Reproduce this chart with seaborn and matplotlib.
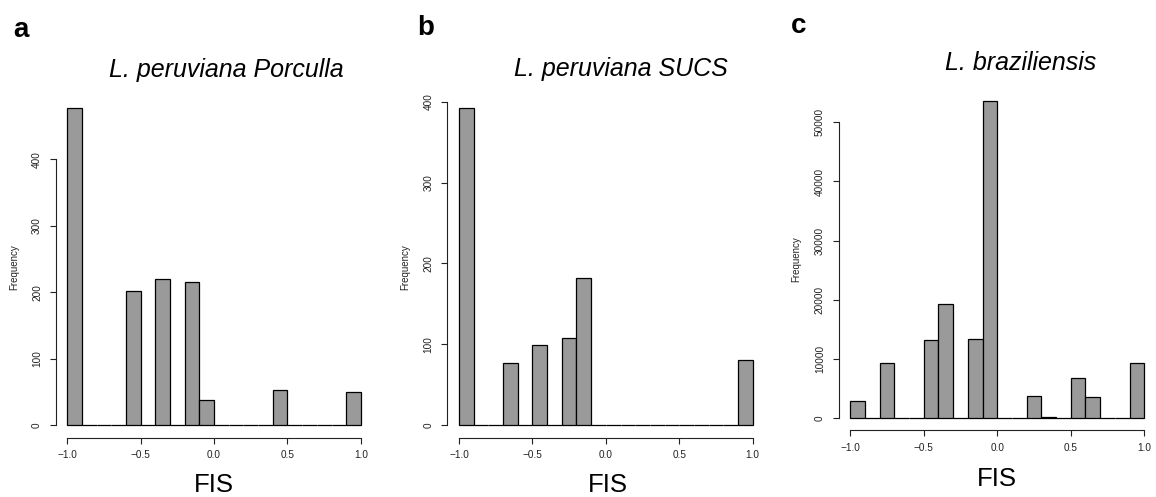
import numpy as np
import pandas as pd
import matplotlib
matplotlib.use("Agg")
import matplotlib.pyplot as plt
import seaborn as sns

# Per-bin counts of FIS (20 bins of width 0.1 from -1 to 1)
porculla_counts = [477, 0, 0, 0, 202, 0, 220, 0, 215, 37,
                   0, 0, 0, 0, 52, 0, 0, 0, 0, 50]
sucs_counts = [392, 0, 0, 77, 0, 99, 0, 108, 182, 0,
               0, 0, 0, 0, 0, 0, 0, 0, 0, 81]
braz_counts = [2900, 0, 9200, 0, 0, 13200, 19300, 0, 13400, 53600,
               0, 0, 3700, 80, 0, 6800, 3500, 0, 0, 9200]

bin_centers = [-0.95, -0.85, -0.75, -0.65, -0.55, -0.45, -0.35, -0.25, -0.15, -0.05,
               0.05, 0.15, 0.25, 0.35, 0.45, 0.55, 0.65, 0.75, 0.85, 0.95]

panel_letters = ["a", "b", "c"]
panel_titles = ["L. peruviana Porculla", "L. peruviana SUCS", "L. braziliensis"]

x_ticks = [-1.0, -0.5, 0.0, 0.5, 1.0]
x_tick_labels = ["\u22121.0", "\u22120.5", "0.0", "0.5", "1.0"]
y_ticks_small = [0, 100, 200, 300, 400]
y_ticks_large = [0, 10000, 20000, 30000, 40000, 50000]

sns.set_theme(style="ticks")
plt.rcParams["font.family"] = ["Liberation Sans", "DejaVu Sans"]

W, H = 1156, 497
fig = plt.figure(figsize=(W / 100, H / 100), dpi=100)

# axes boxes in pixels: left, top, right, bottom
boxes = [(55.6, 95.6, 372.6, 437.7),
         (447.3, 95.6, 764.4, 437.7),
         (838.5, 88.5, 1156.0, 430.4)]

panels = [
    (porculla_counts, y_ticks_small),
    (sucs_counts, y_ticks_small),
    (braz_counts, y_ticks_large),
]

title_pos = [(226, 77), (621, 76), (1021, 70)]
letter_pos = [(13, 37), (417, 35), (791, 33)]
xlabel_pos = [(214, 492), (608, 492), (997, 486)]

for i, ((counts, yticks), (l, t, r, b)) in enumerate(zip(panels, boxes)):
    ax = fig.add_axes([l / W, 1 - b / H, (r - l) / W, (b - t) / H])
    df = pd.DataFrame({"FIS": bin_centers, "count": counts})
    sns.histplot(data=df, x="FIS", weights="count", bins=20, binrange=(-1, 1),
                 color="#9a9a9a", edgecolor="black", linewidth=0.9, alpha=1,
                 ax=ax)
    top = max(counts)
    ax.set_xlim(-1.08, 1.08)
    ax.set_ylim(-0.04 * top, 1.04 * top)

    for side in ("top", "right"):
        ax.spines[side].set_visible(False)
    ax.spines["left"].set_bounds(yticks[0], yticks[-1])
    ax.spines["bottom"].set_bounds(-1, 1)
    for side in ("left", "bottom"):
        ax.spines[side].set_linewidth(0.8)
        ax.spines[side].set_color("#222222")

    ax.set_xticks(x_ticks)
    ax.set_xticklabels(x_tick_labels)
    ax.set_yticks(yticks)
    ax.set_yticklabels([str(v) for v in yticks])
    ax.tick_params(axis="both", direction="out", length=4.1, width=0.8,
                   bottom=True, left=True, top=False, right=False,
                   color="#222222", labelsize=7.2, labelcolor="#222222")
    ax.tick_params(axis="x", pad=4.8)
    ax.tick_params(axis="y", pad=5.7, labelrotation=90)
    for lab in ax.get_yticklabels():
        lab.set_va("center")

    ax.set_ylabel("Frequency", fontsize=7, color="#222222")
    ax.yaxis.set_label_coords(-0.116, 0.5)
    ax.set_xlabel("")

    tx, ty = title_pos[i]
    fig.text(tx / W, 1 - ty / H, panel_titles[i], ha="center", va="baseline",
             fontsize=18, fontstyle="italic", color="black")
    lx, ly = letter_pos[i]
    fig.text(lx / W, 1 - ly / H, panel_letters[i], ha="left", va="baseline",
             fontsize=20, fontweight="bold", color="black")
    fx, fy = xlabel_pos[i]
    fig.text(fx / W, 1 - fy / H, "FIS", ha="center", va="baseline",
             fontsize=18.5, color="black")

fig.savefig("out.png", dpi=100, facecolor="white")
